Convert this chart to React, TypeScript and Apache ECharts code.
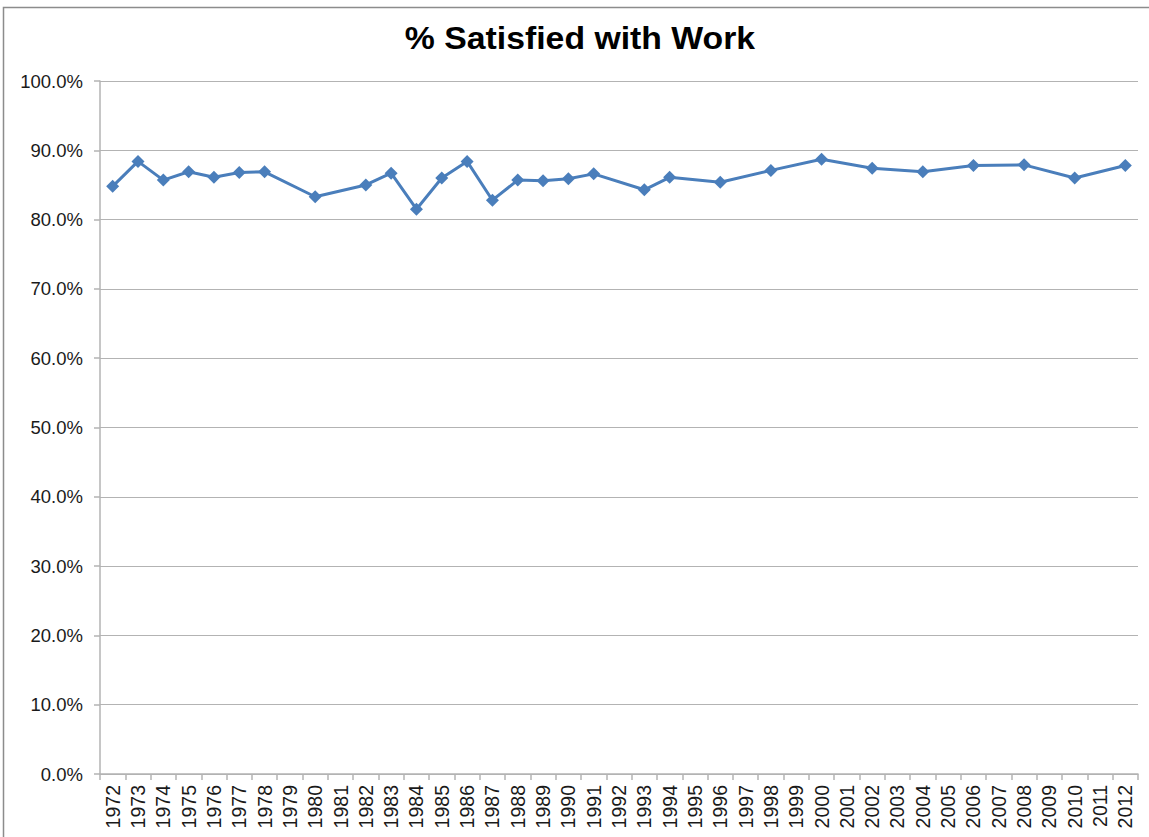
import React, { useEffect, useRef } from "react";
import * as echarts from "echarts";

const years: string[] = [
  "1972","1973","1974","1975","1976","1977","1978","1979","1980","1981",
  "1982","1983","1984","1985","1986","1987","1988","1989","1990","1991",
  "1992","1993","1994","1995","1996","1997","1998","1999","2000","2001",
  "2002","2003","2004","2005","2006","2007","2008","2009","2010","2011","2012",
];

const satisfied: (number | null)[] = [
  84.8, 88.4, 85.7, 86.9, 86.1, 86.8, 86.9, null, 83.3, null,
  85.0, 86.7, 81.5, 86.0, 88.4, 82.8, 85.7, 85.6, 85.9, 86.6,
  null, 84.3, 86.1, null, 85.4, null, 87.1, null, 88.7, null,
  87.4, null, 86.9, null, 87.8, null, 87.9, null, 86.0, null, 87.8,
];

const titleText = "% Satisfied with Work";

export default function App() {
  const ref = useRef<HTMLDivElement>(null);
  useEffect(() => {
    if (!ref.current) return;
    const chart = echarts.init(ref.current, undefined, { renderer: "svg" });
    chart.setOption({
      animation: false,
      backgroundColor: "#ffffff",
      textStyle: { fontFamily: "Liberation Sans, Arial, sans-serif" },
      graphic: [
        {
          type: "rect",
          shape: { x: 3.5, y: 7.5, width: 1300, height: 1000 },
          style: { fill: "none", stroke: "#8c8c8c", lineWidth: 1.5 },
          silent: true,
        },
        {
          type: "text",
          x: 580,
          y: 38,
          scaleX: 1.09,
          style: {
            text: titleText,
            fontSize: 31,
            fontWeight: "bold",
            fontFamily: "Liberation Sans, Arial, sans-serif",
            fill: "#000000",
            align: "center",
            verticalAlign: "middle",
          },
        },
      ],
      grid: { left: 100, right: 11, top: 81, bottom: 63, containLabel: false },
      xAxis: {
        type: "category",
        data: years,
        boundaryGap: true,
        axisLine: { show: true, lineStyle: { color: "#b3b3b3", width: 1.5 } },
        axisTick: { show: true, alignWithLabel: false, length: 6, lineStyle: { color: "#b3b3b3", width: 1.5 } },
        axisLabel: {
          interval: 0,
          rotate: 90,
          margin: 11,
          fontSize: 19.5,
          color: "#1a1a1a",
        },
        splitLine: { show: false },
      },
      yAxis: {
        type: "value",
        min: 0,
        max: 100,
        interval: 10,
        axisLine: { show: true, lineStyle: { color: "#b3b3b3", width: 1.5 } },
        axisTick: { show: true, length: 6, lineStyle: { color: "#b3b3b3", width: 1.5 } },
        axisLabel: {
          fontSize: 18.5,
          margin: 17,
          color: "#1a1a1a",
          formatter: (v: number) => v.toFixed(1) + "%",
        },
        splitLine: { show: true, lineStyle: { color: "#b3b3b3", width: 1.2 } },
      },
      series: [
        {
          type: "line",
          data: satisfied,
          connectNulls: true,
          symbol: "diamond",
          symbolSize: 13,
          lineStyle: { color: "#4a7ebb", width: 3 },
          itemStyle: { color: "#4a7ebb" },
        },
      ],
    });
    return () => chart.dispose();
  }, []);
  return (
    <div
      ref={ref}
      style={{ position: "absolute", left: 0, top: 0, width: 1149, height: 837 }}
    />
  );
}
